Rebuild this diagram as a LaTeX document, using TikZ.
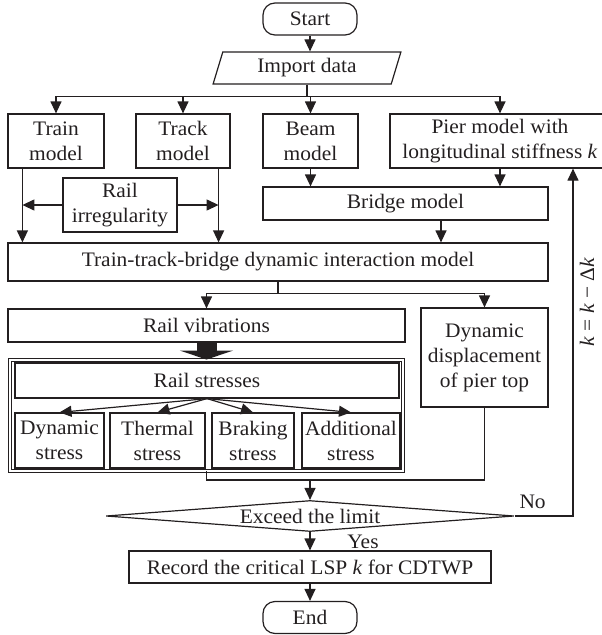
\documentclass[tikz,border=0pt]{standalone}
\usepackage{fontspec}
\setmainfont{Liberation Serif}[FakeStretch=1.04]
\usetikzlibrary{positioning,calc,arrows.meta,shapes.geometric}
\definecolor{ink}{HTML}{231F20}
\tikzset{
  box/.style={draw, align=center, inner sep=1pt},
  term/.style={draw, rounded corners=12pt, minimum width=94pt, minimum height=32pt, inner sep=1pt},
  arr/.style={-{Triangle[length=12pt, width=11pt]}},
  fat/.style={line width=20pt, -{Triangle[length=9pt, width=53pt]}}}

\begin{document}
\begin{tikzpicture}[x=1pt, y=-1pt, line width=1.2pt, color=ink, font=\fontsize{20.6}{25}\selectfont]
\useasboundingbox (0,0) rectangle (602,635);
\node[term] (start) at (310,19) {Start};
\node[draw, trapezium, trapezium left angle=73, trapezium right angle=107, trapezium stretches=true,
  minimum width=188pt, minimum height=32pt, inner sep=0pt] (imp) at (307,68) {Import data};
\node[box, minimum width=96pt, minimum height=54pt] (train) at (56,141) {Train\\model};
\node[box, minimum width=94pt, minimum height=54pt] (track) at (183,141) {Track\\model};
\node[box, minimum width=95pt, minimum height=54pt] (beam) at (310.5,141) {Beam\\model};
\node[box, minimum width=220pt, minimum height=54pt] (pier) at (500,141) {Pier model with\\longitudinal stiffness \textit{k}};
\node[box, minimum width=114pt, minimum height=54pt] (irr) at (120,205) {Rail\\irregularity};
\node[box, minimum width=285pt, minimum height=33pt] (bridge) at (405.5,203.5) {Bridge model};
\node[box, minimum width=540pt, minimum height=38pt] (ttb) at (278,262) {Train-track-bridge dynamic interaction model};
\node[box, minimum width=397pt, minimum height=33pt] (vib) at (206.5,325.5) {Rail vibrations};
\node[box, minimum width=127pt, minimum height=99pt] (disp) at (484.5,357.5) {Dynamic\\displacement\\of pier top};
\node[draw, double, double distance=2.5pt, line width=0.9pt, minimum width=393pt, minimum height=111pt] (frame) at (206.5,415.5) {};
\node[box, minimum width=384pt, minimum height=35pt] (stress) at (207,380.5) {Rail stresses};
\foreach \x/\w/\t [count=\i from 0] in {
    59.5/89/{Dynamic\\stress},
    157.5/95/{Thermal\\stress},
    253/82/{Braking\\stress},
    351/98/{Additional\\stress}} {
  \node[box, minimum width=\w pt, minimum height=55pt] (s\i) at (\x,440.5) {\t};
  \draw[arr] (stress.south) -- (s\i.north);}
\node[draw, diamond, shape aspect=13, inner sep=0pt, minimum width=408pt, minimum height=31pt] (lim) at (310,516) {Exceed the limit};
\node[box, minimum width=362pt, minimum height=32pt] (rec) at (310,567) {Record the critical LSP \textit{k} for CDTWP};
\node[term] (stop) at (310,617.5) {End};
\node (no) at ($(lim.east)+(18,-14)$) {No};
\node (yes) at ($(lim.south)+(53,10)$) {Yes};
\node[rotate=90] (kupd) at (587,302) {\textit{k} = \textit{k} − Δ\textit{k}};
\draw[arr] (start.south) -- (start.south |- imp.north);
\coordinate (fork) at ($(imp.south)+(0,12)$);
\draw (imp.south) -- (fork);
\draw[arr] (fork) -| (train.north);
\draw[arr] (fork) -| (track.north);
\draw[arr] (fork) -| (beam.north);
\draw[arr] (fork) -| (pier.north);
\draw[arr] ([xshift=15pt]train.south west) coordinate (tl) -- (tl |- ttb.north);
\draw[arr] ([xshift=-12pt]track.south east) coordinate (tr) -- (tr |- ttb.north);
\draw[arr] (irr.west) -- (irr.west -| tl);
\draw[arr] (irr.east) -- (irr.east -| tr);
\draw[arr] (beam.south) -- (beam.south |- bridge.north);
\draw[arr] (pier.south) -- (pier.south |- bridge.north);
\draw[arr] ([xshift=35.5pt]bridge.south) coordinate (bb) -- (bb |- ttb.north);
\coordinate (mid) at ($(ttb.south)+(0,12)$);
\draw (ttb.south) -- (mid);
\draw[arr] (mid) -| (vib.north);
\draw[arr] (mid) -| (disp.north);
\draw[fat] (vib.south) -- (frame.north);
\coordinate (join) at (310,480);
\draw (frame.south) |- (join) -| (disp.south);
\draw[arr] (join) -- (lim.north);
\draw[arr] (lim.south) -- (rec.north);
\draw[arr] (rec.south) -- (stop.north);
\draw[arr] (lim.east) -| ([xshift=73pt]pier.south);
\end{tikzpicture}
\end{document}
